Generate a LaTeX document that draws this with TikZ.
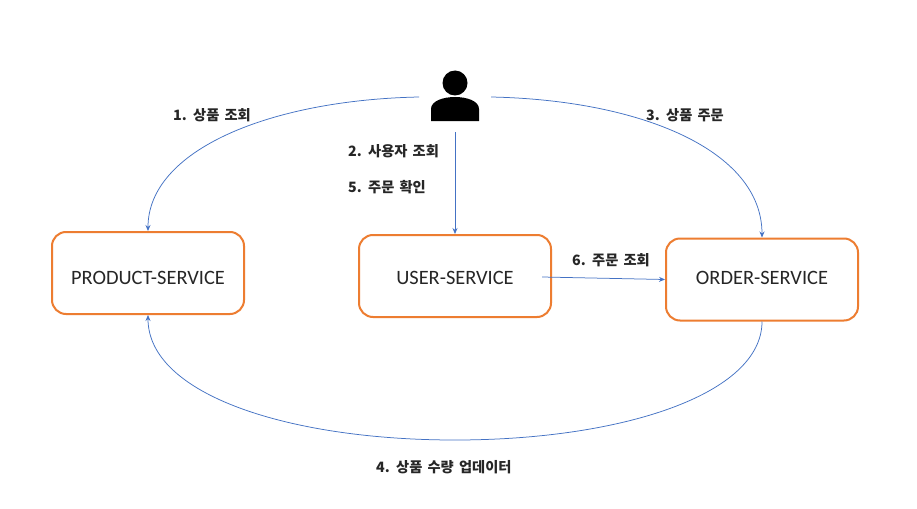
\documentclass[tikz,border=0pt]{standalone}
\usepackage{fontspec}
\setmainfont{Carlito}
\newfontfamily\kr{Noto Sans CJK KR}[WordSpace=1.6]
\usetikzlibrary{arrows.meta}
\definecolor{ob}{HTML}{ED7D31}
\definecolor{bl}{HTML}{4472C4}
\newcommand{\svctext}[2]{\raisebox{#1}[6.5pt][0pt]{#2}}
\tikzset{
 x=1pt,y=-1pt,
 svc/.style={draw=ob,line width=2pt,rounded corners=14pt,minimum width=192pt,minimum height=82pt,inner sep=0pt,font=\fontsize{20.4}{24}\selectfont,text=black!85},
 conn/.style={draw=bl,line width=0.75pt,-{Stealth[length=6pt,width=5pt]}},
 lab/.style={font=\kr\fontsize{14.25}{16}\selectfont\bfseries,text=black!85,inner sep=0pt,anchor=west}
}
\begin{document}
\begin{tikzpicture}
\useasboundingbox (0,0) rectangle (917,508);
\fill[white] (0,0) rectangle (917,508);
\node[svc] (p) at (148,273) {\svctext{-8pt}{PRODUCT-SERVICE}};
\node[svc] (u) at (455,276) {\svctext{-5pt}{USER-SERVICE}};
\node[svc] (o) at (762,279.5) {\svctext{-1.5pt}{ORDER-SERVICE}};
\coordinate (pl) at (419,97);
\coordinate (pr) at (491,97);
\coordinate (pb) at (455,132);
\coordinate (ur) at (542,277);
\fill[black] (455,83) circle (12.5);
\fill[black] (431,121) -- (431,109) .. controls (431,101) and (443,97) .. (455,97) .. controls (467,97) and (479,101) .. (479,109) -- (479,121) -- cycle;
\draw[conn] (pl) .. controls (270,100) and (148,150) .. (p.north);
\draw[conn] (pr) .. controls (640,100) and (762,150) .. (o.north);
\draw[conn] (pb) -- (u.north);
\draw[conn] (ur) -- (o.west);
\draw[conn] (o.south) .. controls (762,395) and (620,440) .. (455,440) .. controls (290,440) and (148,395) .. (p.south);
\node[lab] (l1) at (173,115) {1. 상품 조회};
\node[lab] (l2) at (348,151) {2. 사용자 조회};
\node[lab] (l5) at (348,187) {5. 주문 확인};
\node[lab] (l3) at (646,115) {3. 상품 주문};
\node[lab] (l6) at (572,260) {6. 주문 조회};
\node[lab] (l4) at (376,467) {4. 상품 수량 업데이터};
\end{tikzpicture}
\end{document}
